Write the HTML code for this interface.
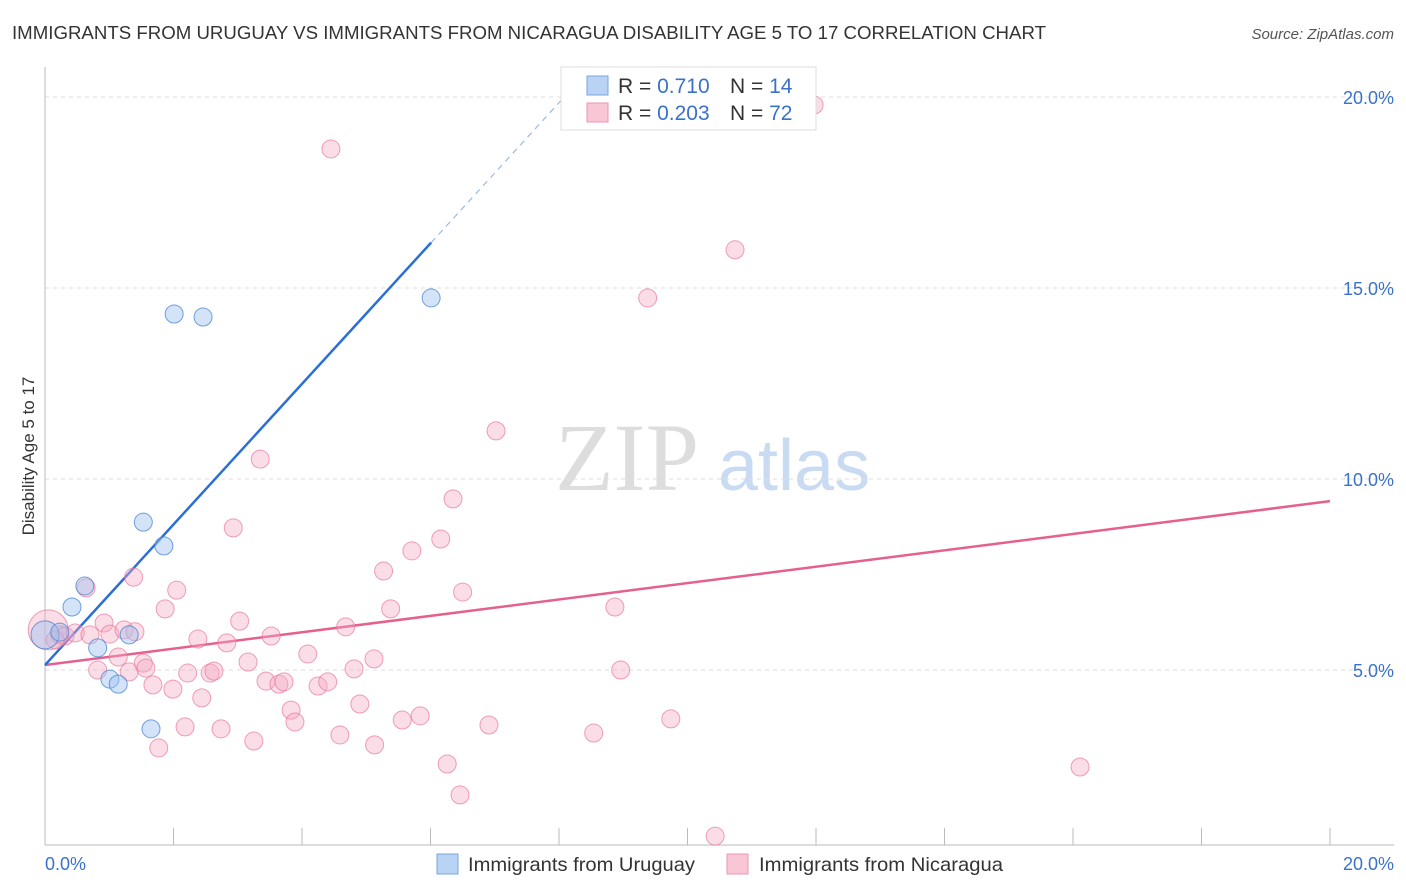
<!DOCTYPE html>
<html><head><meta charset="utf-8"><style>
body{margin:0;background:#fff;font-family:"Liberation Sans",sans-serif}
svg{display:block}
</style></head><body>
<svg id="chart" width="1406" height="892" viewBox="0 0 1406 892" xmlns="http://www.w3.org/2000/svg">
<text x="12" y="39" font-size="18" fill="#333" textLength="1034" lengthAdjust="spacingAndGlyphs">IMMIGRANTS FROM URUGUAY VS IMMIGRANTS FROM NICARAGUA DISABILITY AGE 5 TO 17 CORRELATION CHART</text>
<text x="1394" y="39" font-size="15" fill="#555" text-anchor="end" font-style="italic">Source: ZipAtlas.com</text>
<text x="555" y="490" font-size="96" font-family="Liberation Serif" fill="#ddd">ZIP</text>
<text x="718" y="490" font-size="72" fill="#c9dbf2">atlas</text>
<g id="grid"></g>
<line x1="45" y1="67" x2="45" y2="845" stroke="#bbb"/>
<line x1="45" y1="845" x2="1394" y2="845" stroke="#bbb"/>
<text transform="translate(34,456) rotate(-90)" font-size="17" fill="#333" text-anchor="middle">Disability Age 5 to 17</text>
<text x="45" y="870" font-size="18" fill="#3a72c9">0.0%</text>
<text x="1394" y="870" font-size="18" fill="#3a72c9" text-anchor="end">20.0%</text>
<g id="lines"></g>
<g id="points"></g>
<g>
<rect x="561" y="67" width="255" height="63" fill="#fff" stroke="#ddd"/>
<rect x="587" y="76" width="21" height="19" fill="#b9d3f4" stroke="#7aa6e0"/>
<rect x="587" y="103" width="21" height="19" fill="#f9c6d5" stroke="#ec94b0"/>
<text x="618" y="93" font-size="21" fill="#333">R = <tspan fill="#3a72c9">0.710</tspan></text>
<text x="730" y="93" font-size="21" fill="#333">N = <tspan fill="#3a72c9">14</tspan></text>
<text x="618" y="120" font-size="21" fill="#333">R = <tspan fill="#3a72c9">0.203</tspan></text>
<text x="730" y="120" font-size="21" fill="#333">N = <tspan fill="#3a72c9">72</tspan></text>
</g>
<g>
<rect x="437" y="854" width="21" height="20" fill="#b9d3f4" stroke="#7aa6e0"/>
<text x="468" y="871" font-size="19.5" fill="#333" textLength="227" lengthAdjust="spacingAndGlyphs">Immigrants from Uruguay</text>
</g>
<g>
<rect x="727" y="854" width="21" height="20" fill="#f9c6d5" stroke="#ec94b0"/>
<text x="759" y="871" font-size="19.5" fill="#333" textLength="244" lengthAdjust="spacingAndGlyphs">Immigrants from Nicaragua</text>
</g>
</svg>
<script>
const yTicks=[5,10,15,20];
const yTickLabels=["5.0%","10.0%","15.0%","20.0%"];
const xTicks=[0,2,4,6,8,10,12,14,16,18,20];
const uruguayX=[0,0.23,0.42,0.62,0.82,1.01,1.14,1.31,1.53,1.65,1.85,2.01,2.46,6.01];
const uruguayY=[5.92,5.99,6.65,7.20,5.58,4.76,4.63,5.92,8.87,3.46,8.25,14.32,14.24,14.74];
const nicaraguaX=[0.05,0.23,0.31,0.47,0.64,0.82,0.92,1.01,1.14,1.23,1.31,1.38,1.53,1.57,1.68,1.77,1.87,1.99,2.05,2.18,2.22,2.38,2.44,2.57,2.63,2.74,2.83,2.93,3.03,3.16,3.25,3.35,3.44,3.52,3.64,3.72,3.83,3.89,4.09,4.25,4.40,4.45,4.59,4.68,4.81,4.90,5.12,5.13,5.27,5.38,5.56,5.71,5.84,6.16,6.26,6.35,6.46,6.50,6.91,7.02,8.54,8.87,8.96,9.38,9.74,10.43,10.74,11.97,16.11,0.16,0.70,1.40];
const nicaraguaY=[6.05,5.92,5.89,5.97,7.15,5.00,6.23,5.94,5.34,6.05,4.95,7.43,5.18,5.05,4.61,2.96,6.60,4.50,7.09,3.51,4.92,5.81,4.27,4.92,4.97,3.46,5.71,8.72,6.28,5.21,3.14,10.52,4.71,5.89,4.63,4.69,3.95,3.64,5.42,4.58,4.69,18.64,3.30,6.13,5.03,4.11,5.29,3.04,7.59,6.60,3.69,8.12,3.80,8.43,2.54,9.48,1.73,7.04,3.56,11.26,3.35,6.65,5.00,14.74,3.72,0.65,16.00,19.79,2.46,5.79,5.92,6.00];
const uruguayFit=[5.13,1.84];
const nicaraguaFit=[5.13,0.2145];
const NS="http://www.w3.org/2000/svg";
const sx=v=>45+v/20*1285;
const sy=v=>861-v/5*191;
function mk(tag,attrs,parent){const e=document.createElementNS(NS,tag);for(const k in attrs)e.setAttribute(k,attrs[k]);document.getElementById(parent).appendChild(e);return e;}
yTicks.forEach((t,i)=>{
 const l=mk('line',{x1:45,x2:1394,y1:sy(t),y2:sy(t),stroke:'#ddd','stroke-dasharray':'4,4'},'grid');
 
 
 const tx=mk('text',{x:1394,y:sy(t)+7,'font-size':18,fill:'#3a72c9','text-anchor':'end'},'grid');
 tx.textContent=yTickLabels[i];
 
 
});
xTicks.forEach(t=>{
 const l=mk('line',{x1:sx(t),x2:sx(t),y1:828,y2:845,stroke:'#bbb'},'grid');
 
 
});
nicaraguaX.forEach((x,i)=>{
 const c=mk('circle',{cx:sx(x),cy:sy(nicaraguaY[i]),r:i===0?20:9,fill:'rgba(246,170,195,0.4)',stroke:'rgba(232,120,155,0.7)','stroke-width':1},'points');
 
 
});
uruguayX.forEach((x,i)=>{
 const c=mk('circle',{cx:sx(x),cy:sy(uruguayY[i]),r:i===0?14:9,fill:'rgba(160,195,240,0.45)',stroke:'rgba(70,130,210,0.75)','stroke-width':1},'points');
 
 
});
const pl=mk('line',{x1:sx(0),y1:sy(nicaraguaFit[0]),x2:sx(20),y2:sy(nicaraguaFit[0]+nicaraguaFit[1]*20),stroke:'#e5608e','stroke-width':2.5},'lines');


const bl=mk('line',{x1:sx(0),y1:sy(uruguayFit[0]),x2:sx(6.01),y2:sy(uruguayFit[0]+uruguayFit[1]*6.01),stroke:'#2b6fd6','stroke-width':2.5},'lines');


const bd=mk('line',{x1:sx(6.01),y1:sy(uruguayFit[0]+uruguayFit[1]*6.01),x2:sx(8.3),y2:sy(uruguayFit[0]+uruguayFit[1]*8.3),stroke:'#9bb8e3','stroke-width':1.2,'stroke-dasharray':'6,5'},'lines');


</script>
</body></html>
